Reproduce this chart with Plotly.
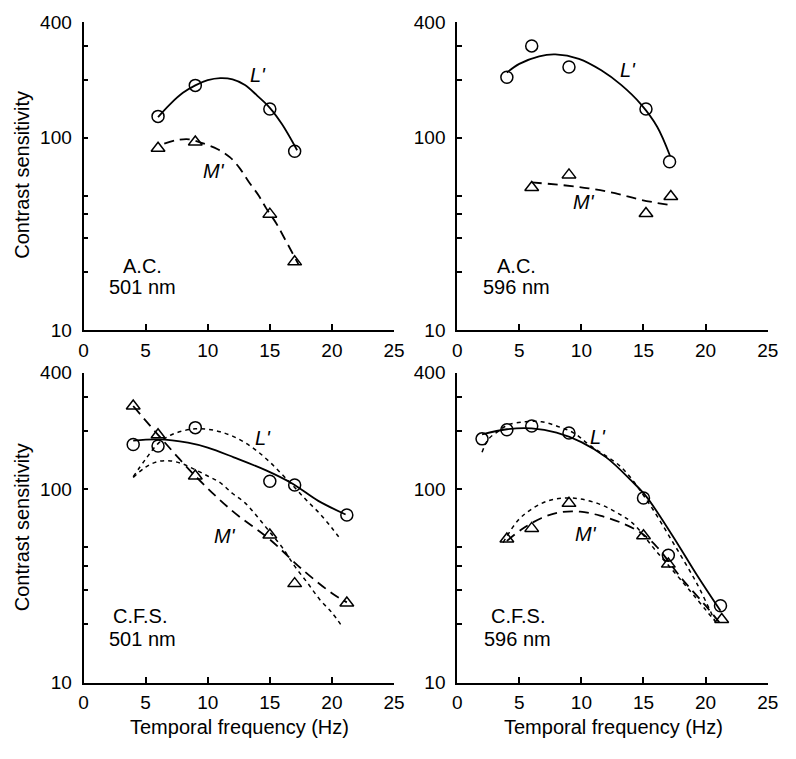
import math
import plotly.graph_objects as go

# ---------------- data ----------------
# A.C., 501 nm
ac501_freq = [6, 9, 15, 17]
ac501_L = [129, 187, 141, 85]
ac501_M = [88, 95, 40, 22.6]
ac501_Lfit_x = [6, 7, 8, 9, 10, 11, 12, 13, 14, 15, 16, 17.2]
ac501_Lfit_y = [128, 150, 171, 187, 199, 204, 201, 188, 165, 143, 117, 86]
ac501_Mfit_x = [6.5, 7.5, 8.5, 9.5, 10.8, 11.8, 12.6, 13.3, 14.1, 14.7, 15.5, 16.3, 17.3]
ac501_Mfit_y = [93, 97, 98, 94, 87, 79, 69, 59, 50, 43, 36, 29, 22]

# A.C., 596 nm
ac596_Lfreq = [4, 6, 9, 15.2, 17.1]
ac596_L = [206, 300, 233, 141, 75]
ac596_Mfreq = [6, 9, 15.2, 17.2]
ac596_M = [55, 64, 40.3, 49.4]
ac596_Lfit_x = [4, 5, 6.6, 7.9, 9.8, 11.6, 13.2, 14.8, 16.1, 17.15]
ac596_Lfit_y = [218, 242, 265, 271, 257, 224, 188, 149, 114, 80]
ac596_Mfit_x = [6, 8.5, 10.6, 12.7, 14.8, 17.2]
ac596_Mfit_y = [58.5, 56.6, 54.5, 51.4, 47.5, 44.5]

# C.F.S., 501 nm
cfs501_freq = [4, 6, 9, 15, 17, 21.2]
cfs501_L = [170, 167, 208, 110, 105, 73.6]
cfs501_M = [269, 191, 117, 58, 32.5, 25.8]
cfs501_Lfit_x = [4, 6, 8.4, 10, 12.1, 14.7, 16.8, 18.9, 21.1]
cfs501_Lfit_y = [178, 181, 174, 164, 146, 125, 107, 87, 74]
cfs501_Mfit_x = [4, 6, 9, 12, 15, 17.5, 20, 21.2]
cfs501_Mfit_y = [269, 191, 117, 77, 55, 39, 29, 26]
cfs501_Ldot_x = [4, 5, 6, 7, 8, 9, 10, 11, 12, 13, 14, 15, 16, 17, 18, 19, 20, 20.7]
cfs501_Ldot_y = [116, 143, 172, 190, 200, 205, 204, 198, 188, 174, 157, 138, 119, 102, 87, 75, 63, 55]
cfs501_Mdot_x = [4, 5, 6, 7, 8, 9, 10, 11, 12, 13, 14, 15, 16, 17, 18, 19, 20, 20.7]
cfs501_Mdot_y = [115, 130, 139, 140, 135, 126, 117, 108, 95, 85, 72, 60, 50, 40, 33, 27, 23, 20]

# C.F.S., 596 nm
cfs596_freq = [2, 4, 6, 9, 15, 17, 21.2]
cfs596_L = [182, 203, 212, 195, 90, 45.6, 25]
cfs596_Mfreq = [4, 6, 9, 15, 17, 21.3]
cfs596_M = [55.3, 62.7, 84.5, 57.4, 41, 21.2]
cfs596_Lfit_x = [2, 4, 6, 8, 10, 12, 14, 15.2, 17.3, 19.3, 21.2]
cfs596_Lfit_y = [192, 204, 206, 196, 175, 146, 111, 92, 58, 36, 23.5]
cfs596_Mfit_x = [4, 5.2, 6.8, 8.3, 9.9, 11.5, 13.1, 14.7, 16, 18, 20, 21.1]
cfs596_Mfit_y = [54, 62, 71, 76, 76.5, 73, 67.5, 60, 51, 35, 25, 20.5]
cfs596_Ldot_x = [2, 2.5, 3.3, 4.1, 5.5, 6.8, 8.1, 9.4, 10.7, 13.2, 15.2, 17.3, 19.3, 20.8]
cfs596_Ldot_y = [155, 181, 199, 215, 223, 223, 211, 195, 168, 130, 89, 54, 32.5, 20.5]
cfs596_Mdot_x = [3.7, 4.9, 6, 7.3, 8.6, 9.9, 11.5, 12.8, 14.1, 16, 18, 20.7]
cfs596_Mdot_y = [53, 69, 79, 87, 90, 89, 83.5, 76, 67, 48, 34, 21]

x_ticks = [0, 5, 10, 15, 20, 25]
y_ticks = [10, 20, 30, 40, 50, 100, 200, 300, 400]
y_ticktext = ["10", "", "", "", "", "100", "", "", "400"]

# ---------------- figure ----------------
FONT = "Liberation Sans, Arial, Helvetica, sans-serif"
PAGE_MARGIN = 8                      # default <body> margin of the html page
W, H = 796 - 2 * PAGE_MARGIN, 759 - 2 * PAGE_MARGIN
fig = go.Figure()

def px_x(p):
    return (p - PAGE_MARGIN) / W

def px_y(p):
    return 1 - (p - PAGE_MARGIN) / H

def line(ax, xs, ys, dash, width=1.8):
    fig.add_trace(go.Scatter(
        x=xs, y=ys, mode="lines", xaxis="x" + ax, yaxis="y" + ax,
        line=dict(color="black", width=width, dash=dash, shape="spline", smoothing=1.0),
        showlegend=False, hoverinfo="skip"))

def pts(ax, xs, ys, symbol, size):
    fig.add_trace(go.Scatter(
        x=xs, y=ys, mode="markers", xaxis="x" + ax, yaxis="y" + ax,
        marker=dict(symbol=symbol, size=size, color="black", line=dict(color="black", width=1.5)),
        showlegend=False, cliponaxis=False))

SOLID, DASH, DOT = "solid", "10px,6px", "4px,4px"
CIRC, TRI = "circle-open", "triangle-up-open"

# panel 1 (top-left)
line("", ac501_Lfit_x, ac501_Lfit_y, SOLID)
line("", ac501_Mfit_x, ac501_Mfit_y, DASH)
pts("", ac501_freq, ac501_L, CIRC, 12)
pts("", ac501_freq, ac501_M, TRI, 12)
# panel 2 (top-right)
line("2", ac596_Lfit_x, ac596_Lfit_y, SOLID)
line("2", ac596_Mfit_x, ac596_Mfit_y, DASH)
pts("2", ac596_Lfreq, ac596_L, CIRC, 12)
pts("2", ac596_Mfreq, ac596_M, TRI, 12)
# panel 3 (bottom-left)
line("3", cfs501_Ldot_x, cfs501_Ldot_y, DOT, 1.5)
line("3", cfs501_Mdot_x, cfs501_Mdot_y, DOT, 1.5)
line("3", cfs501_Lfit_x, cfs501_Lfit_y, SOLID)
line("3", cfs501_Mfit_x, cfs501_Mfit_y, DASH)
pts("3", cfs501_freq, cfs501_L, CIRC, 12)
pts("3", cfs501_freq, cfs501_M, TRI, 12)
# panel 4 (bottom-right)
line("4", cfs596_Ldot_x, cfs596_Ldot_y, DOT, 1.5)
line("4", cfs596_Mdot_x, cfs596_Mdot_y, DOT, 1.5)
line("4", cfs596_Lfit_x, cfs596_Lfit_y, SOLID)
line("4", cfs596_Mfit_x, cfs596_Mfit_y, DASH)
pts("4", cfs596_freq, cfs596_L, CIRC, 12)
pts("4", cfs596_Mfreq, cfs596_M, TRI, 12)

xl = [px_x(80), px_x(397)]
xr = [px_x(461.5), px_x(778.5)]
yt = [px_y(329), px_y(12)]
yb = [px_y(692), px_y(373)]

def xaxis(domain, anchor):
    return dict(domain=domain, anchor=anchor, range=[0, 25], tickvals=x_ticks,
                ticks="inside", ticklen=6, tickwidth=1.5, tickcolor="black",
                showline=True, linecolor="black", linewidth=1.8, mirror=False,
                showgrid=False, zeroline=False, ticklabelstandoff=2,
                tickfont=dict(family=FONT, size=19, color="black"))

def yaxis(domain, anchor):
    return dict(domain=domain, anchor=anchor, type="log", range=[1, math.log10(400)],
                tickvals=y_ticks, ticktext=y_ticktext,
                ticks="inside", ticklen=5, tickwidth=1.5, tickcolor="black",
                showline=True, linecolor="black", linewidth=1.8, mirror=False,
                showgrid=False, zeroline=False, ticklabelstandoff=6,
                tickfont=dict(family=FONT, size=19, color="black"))

fig.update_layout(
    width=W, height=H, margin=dict(l=0, r=0, t=0, b=0),
    paper_bgcolor="white", plot_bgcolor="white",
    font=dict(family=FONT, size=20, color="black"),
    xaxis=xaxis(xl, "y"), yaxis=yaxis(yt, "x"),
    xaxis2=xaxis(xr, "y2"), yaxis2=yaxis(yt, "x2"),
    xaxis3=xaxis(xl, "y3"), yaxis3=yaxis(yb, "x3"),
    xaxis4=xaxis(xr, "y4"), yaxis4=yaxis(yb, "x4"),
)

ann = []
def txt(ax, x, yval, text, italic=False):
    ann.append(dict(xref="x" + ax, yref="y" + ax, x=x, y=math.log10(yval),
                    text=("<i>%s</i>" % text) if italic else text, showarrow=False,
                    xanchor="center", yanchor="middle",
                    font=dict(family=FONT, size=20, color="black")))

txt("", 14.06, 212, "L'", True); txt("", 10.5, 67, "M'", True)
txt("2", 13.77, 224, "L'", True); txt("2", 10.17, 46, "M'", True)
txt("3", 14.46, 184, "L'", True); txt("3", 11.36, 57.4, "M'", True)
txt("4", 11.31, 186, "L'", True); txt("4", 10.39, 59, "M'", True)

txt("", 4.73, 21.6, "A.C."); txt("", 4.73, 16.7, "501 nm")
txt("2", 4.81, 21.6, "A.C."); txt("2", 4.81, 16.7, "596 nm")
txt("3", 4.53, 22.2, "C.F.S."); txt("3", 4.73, 16.8, "501 nm")
txt("4", 4.9, 22.2, "C.F.S."); txt("4", 4.82, 16.8, "596 nm")

def paper_txt(px, py, text, angle=0):
    ann.append(dict(xref="paper", yref="paper", x=px_x(px), y=px_y(py), text=text,
                    showarrow=False, xanchor="center", yanchor="middle", textangle=angle,
                    font=dict(family=FONT, size=20, color="black")))

paper_txt(17, 169.5, "Contrast sensitivity", -90)
paper_txt(17.5, 531.7, "Contrast sensitivity", -90)
paper_txt(239, 738, "Temporal frequency (Hz)")
paper_txt(621, 738, "Temporal frequency (Hz)")

fig.update_layout(annotations=ann)
fig.write_html("out.html")
